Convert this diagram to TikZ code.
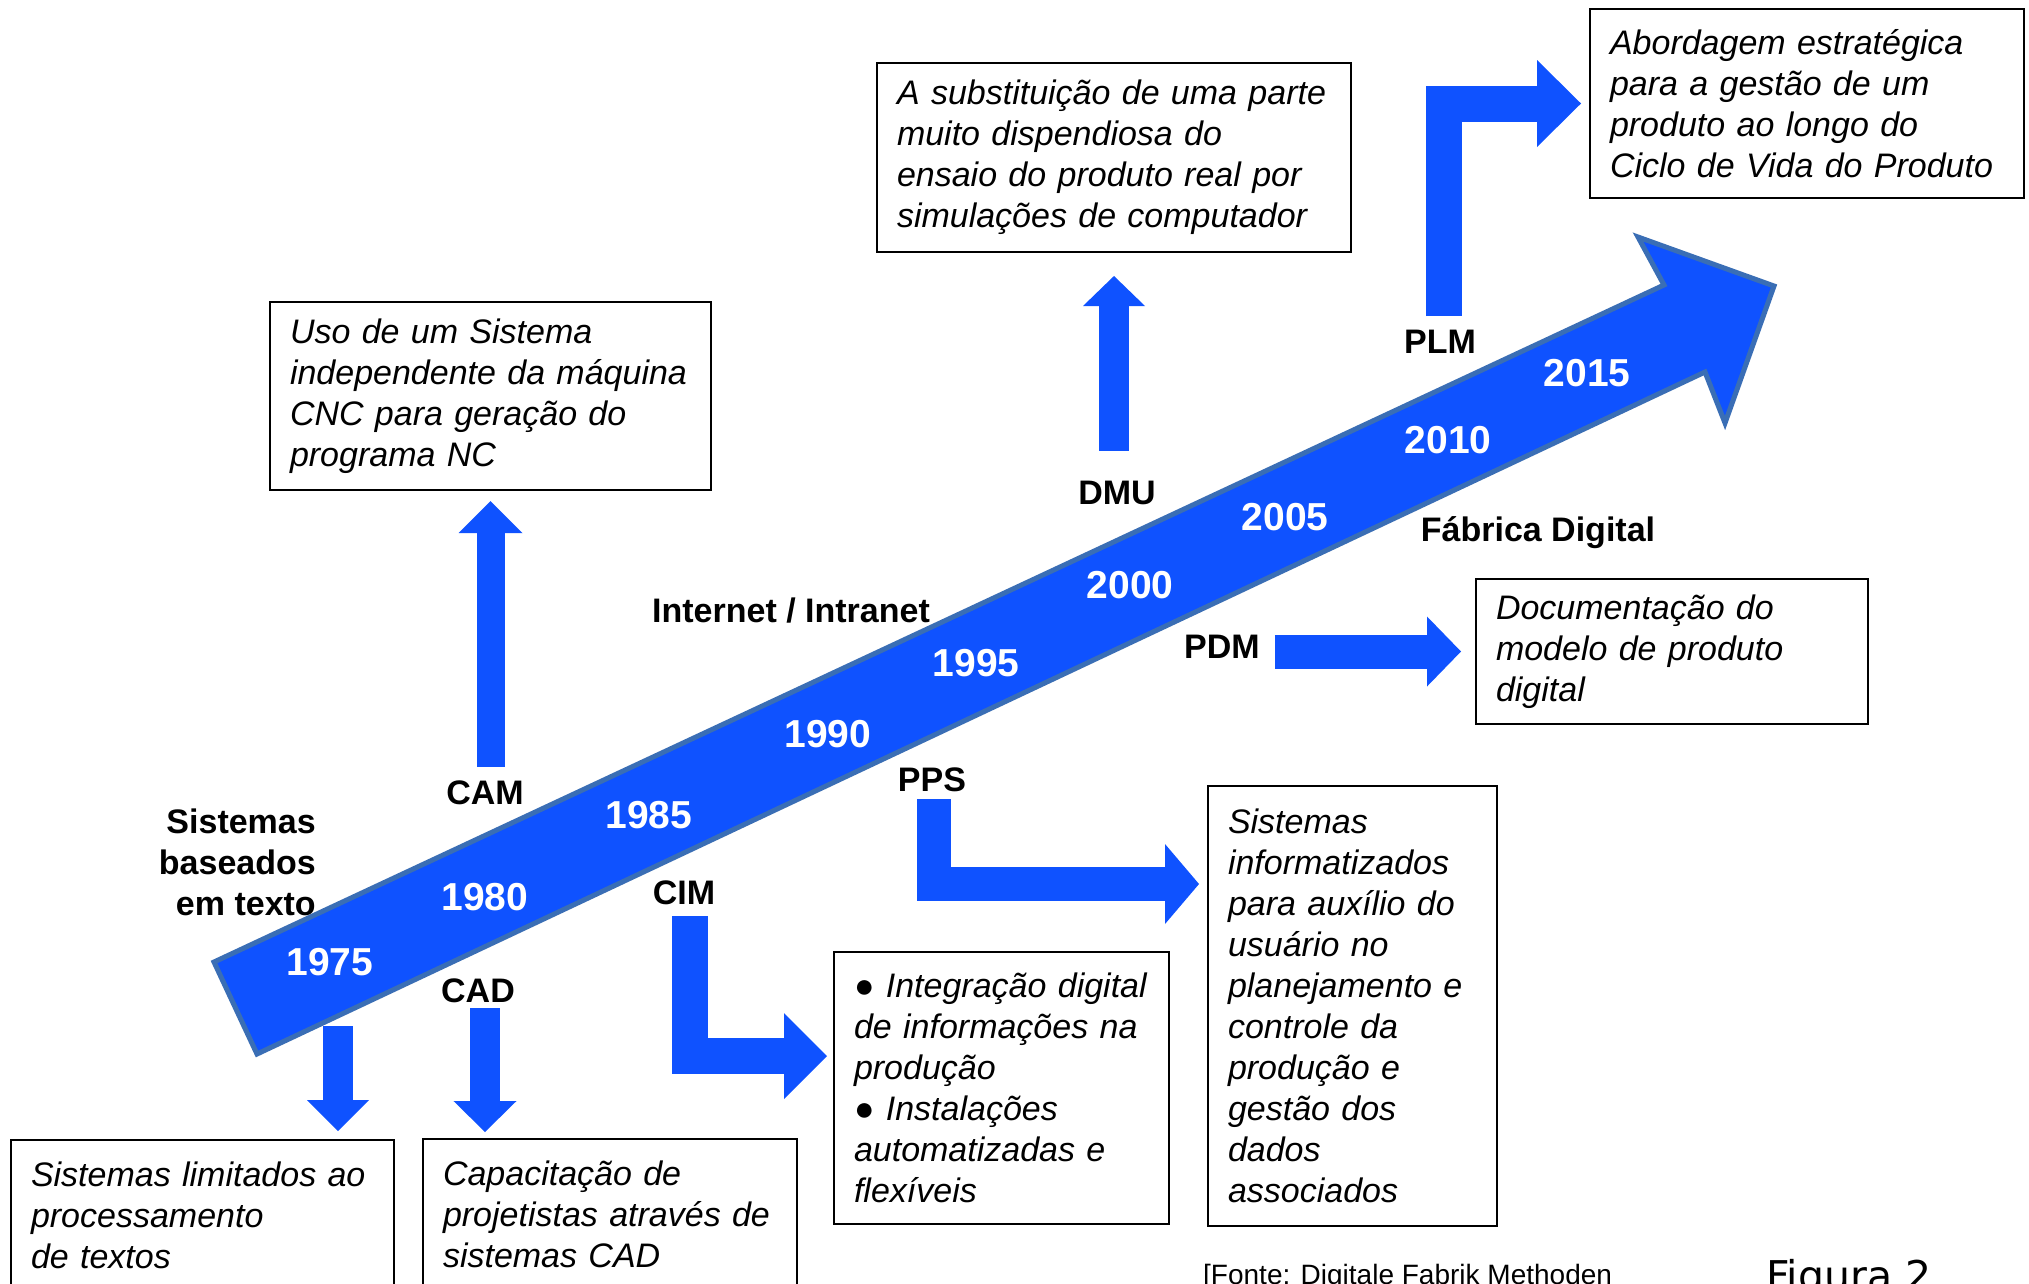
\documentclass[tikz,border=0pt]{standalone}
\usepackage{fontspec}
\setmainfont{Liberation Sans}
\newfontfamily\figurefont{DejaVu Sans}
\usepackage{xcolor}
\usetikzlibrary{arrows.meta,positioning}

\definecolor{timeblue}{RGB}{15,82,255}
\definecolor{timeedge}{RGB}{58,110,181}

\begin{document}
\begin{tikzpicture}[
    x = 1pt, y = -1pt,
    every node/.style = {inner sep=0pt},
    infobox/.style = {draw, line width=2pt, anchor=north west, align=left,
      inner xsep=20pt, inner ysep=5pt,
      font=\fontsize{34}{41}\selectfont\itshape},
    term/.style = {font=\fontsize{34}{41}\selectfont\bfseries},
    yearmark/.style = {text=white, font=\fontsize{39}{41}\selectfont\bfseries},
    flow/.style n args = {3}{draw=timeblue, line width=#1, line join=miter,
      -{Triangle[width=#2, length=#3, line width=0pt]}}
  ]

  \useasboundingbox (0,0) rectangle (2029,1283);
  \clip (0,0) rectangle (2029,1283);

  % timeline
  \draw[fill=timeblue, draw=timeedge, line width=5pt, line join=miter]
    (214,962) -- (1664,285) -- (1638,237) -- (1774,286)
    -- (1725,423) -- (1705,372) -- (257,1054) -- cycle;

  \node[yearmark] (y1975) at (330,962) {1975};
  \node[yearmark] (y1980) at (485,897) {1980};
  \node[yearmark] (y1985) at (649,815) {1985};
  \node[yearmark] (y1990) at (828,734) {1990};
  \node[yearmark] (y1995) at (976,663) {1995};
  \node[yearmark] (y2000) at (1130,585) {2000};
  \node[yearmark] (y2005) at (1285,517) {2005};
  \node[yearmark] (y2010) at (1448,440) {2010};
  \node[yearmark] (y2015) at (1587,373) {2015};

  \node[term, align=right, anchor=east] (textsys) at (316,862) {Sistemas\\baseados\\em texto};
  \node[term] (cam) at (485,793) {CAM};
  \node[term] (cad) at (478,991) {CAD};
  \node[term] (cim) at (684,893) {CIM};
  \node[term] (net) at (791,611) {Internet / Intranet};
  \node[term] (pps) at (932,780) {PPS};
  \node[term] (pdm) at (1222,647) {PDM};
  \node[term] (dmu) at (1117,493) {DMU};
  \node[term] (fab) at (1538,533) {Fábrica Digital};
  \node[term] (plm) at (1440,342) {PLM};

  \node[infobox, text width=401pt, minimum height=188pt] (boxA) at (269,301)
    {Uso de um Sistema\\independente da máquina\\CNC para geração do\\programa NC};
  \node[infobox, text width=434pt, minimum height=189pt] (boxB) at (876,62)
    {A substituição de uma parte\\muito dispendiosa do\\ensaio do produto real por\\simulações de computador};
  \node[infobox, text width=394pt, minimum height=189pt] (boxC) at (1589,8)
    {Abordagem estratégica\\para a gestão de um\\produto ao longo do\\Ciclo de Vida do Produto};
  \node[infobox, text width=352pt, minimum height=145pt] (boxD) at (1475,578)
    {Documentação do\\modelo de produto\\digital};
  \node[infobox, text width=249pt, minimum height=440pt] (boxE) at (1207,785)
    {Sistemas\\informatizados\\para auxílio do\\usuário no\\planejamento e\\controle da\\produção e\\gestão dos\\dados\\associados};
  \node[infobox, text width=295pt, minimum height=272pt] (boxF) at (833,951)
    {{\upshape ●} Integração digital\\de informações na\\produção\\{\upshape ●} Instalações\\automatizadas e\\flexíveis};
  \node[infobox, text width=343pt, minimum height=150pt] (boxG) at (10,1139)
    {Sistemas limitados ao\\processamento\\de textos};
  \node[infobox, text width=334pt, minimum height=150pt] (boxH) at (422,1138)
    {Capacitação de\\projetistas através de\\sistemas CAD};

  \draw[flow={30pt}{62pt}{31pt}, shorten <=50pt, shorten >=8pt]
    ([xshift=8pt]y1975.south) -- ([xshift=8pt]y1975.south |- boxG.north);
  \draw[flow={30pt}{63pt}{31pt}, shorten <=5pt, shorten >=6pt]
    ([xshift=7pt]cad.south) -- ([xshift=7pt]cad.south |- boxH.north);
  \draw[flow={28pt}{64pt}{32pt}, shorten <=14pt, shorten >=10pt]
    (cam.north -| boxA.south) -- (boxA.south);
  \draw[flow={30pt}{62pt}{30pt}, shorten <=30pt, shorten >=23pt]
    ([xshift=-3pt]dmu.north) -- ([xshift=-3pt]dmu.north |- boxB.south);
  \draw[flow={36pt}{86pt}{43pt}, shorten <=11pt, shorten >=6pt]
    ([xshift=6pt]cim.south) |- ([yshift=32pt]boxF.west);
  \draw[flow={34pt}{80pt}{34pt}, shorten <=7pt, shorten >=8pt]
    ([xshift=2pt]pps.south) |- ([yshift=122pt]boxE.west);
  \draw[flow={34pt}{70pt}{34pt}, shorten <=15pt, shorten >=14pt]
    (pdm.east |- boxD.west) -- (boxD.west);
  \draw[flow={36pt}{87pt}{44pt}, shorten <=14pt, shorten >=8pt]
    ([xshift=4pt]plm.north) |- (boxC.west);

  \node[anchor=base west, font=\fontsize{28}{34}\selectfont] (source) at (1203,1284)
    {[Fonte: Digitale Fabrik Methoden};
  \node[anchor=base west, font=\figurefont\fontsize{41}{48}\selectfont] (caption) at (1766,1290)
    {Figura 2};

\end{tikzpicture}
\end{document}
